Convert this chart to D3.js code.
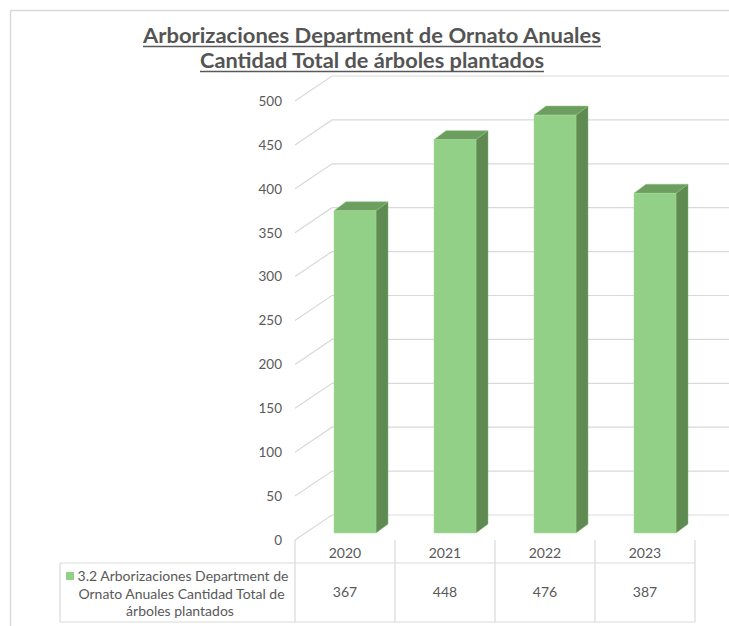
<!DOCTYPE html>
<html>
<head>
<meta charset="utf-8">
<script src="https://cdn.jsdelivr.net/npm/d3@7"></script>
<style>
  html, body { margin: 0; padding: 0; background: #fff; }
  svg { display: block; }
  text { font-family: Lato, "Open Sans", sans-serif; }
</style>
</head>
<body>
<svg id="chart" width="729" height="626"></svg>
<script>
const categories = ["2020", "2021", "2022", "2023"];
const values = [367, 448, 476, 387];
const yTicks = [0, 50, 100, 150, 200, 250, 300, 350, 400, 450, 500];
const titleLines = ["Arborizaciones Department de Ornato Anuales", "Cantidad Total de árboles plantados"];
const seriesName = ["3.2 Arborizaciones Department de", "Ornato Anuales Cantidad Total de", "árboles plantados"];

const svg = d3.select("#chart");
const W = 729, H = 626;
const textColor = "#595959", gridColor = "#d9d9d9";
const frontCol = "#93d087", sideCol = "#5f8b53", topCol = "#6b9e5f";

// outer chart border
svg.append("rect").attr("x", 10.5).attr("y", 10.5).attr("width", W + 20).attr("height", H + 20)
  .attr("fill", "none").attr("stroke", gridColor).attr("stroke-width", 1.5);

// title
const titleBase = [43, 68];
const titleWidths = [458, 344];
titleLines.forEach((t, i) => {
  svg.append("text").attr("x", 372).attr("y", titleBase[i]).attr("text-anchor", "middle")
    .attr("font-size", 20).attr("font-weight", "bold").attr("fill", "#545454")
    .attr("textLength", titleWidths[i]).attr("lengthAdjust", "spacingAndGlyphs").text(t);
  svg.append("line").attr("x1", 372 - titleWidths[i] / 2).attr("x2", 372 + titleWidths[i] / 2)
    .attr("y1", titleBase[i] + 3.5).attr("y2", titleBase[i] + 3.5)
    .attr("stroke", textColor).attr("stroke-width", 1.6);
});

// scales
const x = d3.scaleBand().domain(categories).range([295, 695]);
const y = d3.scaleLinear().domain([0, 500]).range([540, 101]);
const depth = [37, -25];       // wall depth vector
const barOff = [10, -7];       // bar front plane offset
const barDepth = [12, -9];     // bar depth
const barW = 42;

// gridlines (left wall diagonal + back wall horizontal)
const grid = svg.append("g");
yTicks.forEach(v => {
  const yy = y(v);
  grid.append("path")
    .attr("d", `M${x.range()[0]},${yy} L${x.range()[0] + depth[0]},${yy + depth[1]} L${W + 5},${yy + depth[1]}`)
    .attr("fill", "none").attr("stroke", gridColor).attr("stroke-width", 1.2);
});

// y axis labels
const yAxis = d3.axisLeft(y).tickValues(yTicks).tickSize(0).tickPadding(0);
const ga = svg.append("g").attr("transform", "translate(282,0)").call(yAxis);
ga.select(".domain").remove();
ga.selectAll("text").attr("font-size", 13.5).attr("fill", textColor)
  .attr("font-family", "Lato, 'Open Sans', sans-serif");

// bars
const bars = svg.append("g");
categories.forEach((c, i) => {
  const v = values[i];
  const cx = x(c) + x.bandwidth() / 2;
  const x0 = cx - barW / 2 + barOff[0];
  const x1 = x0 + barW;
  const yb = y(0) + barOff[1];
  const yt = y(v) + barOff[1];
  const dx = barDepth[0], dy = barDepth[1];
  bars.append("path")
    .attr("d", `M${x1},${yb} L${x1 + dx},${yb + dy} L${x1 + dx},${yt + dy} L${x1},${yt} Z`)
    .attr("fill", sideCol).attr("stroke", "#7fb472").attr("stroke-width", 0.5);
  bars.append("path")
    .attr("d", `M${x0},${yt} L${x1},${yt} L${x1 + dx},${yt + dy} L${x0 + dx},${yt + dy} Z`)
    .attr("fill", topCol).attr("stroke", "#8cc47f").attr("stroke-width", 0.5);
  bars.append("rect").attr("x", x0).attr("y", yt).attr("width", barW).attr("height", yb - yt)
    .attr("fill", frontCol).attr("stroke", "#a6d99b").attr("stroke-width", 0.5);
});

// data table
const tbl = svg.append("g").attr("stroke", gridColor).attr("stroke-width", 1.2).attr("fill", "none");
const tTop = 540, tMid = 563, tBot = 622, legL = 60;
const xr = x.range();
categories.forEach(c => {
  tbl.append("line").attr("x1", x(c)).attr("x2", x(c)).attr("y1", tTop).attr("y2", tBot);
});
tbl.append("line").attr("x1", xr[1]).attr("x2", xr[1]).attr("y1", tTop).attr("y2", tBot);
tbl.append("line").attr("x1", legL).attr("x2", xr[1]).attr("y1", tMid).attr("y2", tMid);
tbl.append("line").attr("x1", legL).attr("x2", xr[1]).attr("y1", tBot).attr("y2", tBot);
tbl.append("line").attr("x1", legL).attr("x2", legL).attr("y1", tMid).attr("y2", tBot);

categories.forEach((c, i) => {
  const cx = x(c) + x.bandwidth() / 2;
  svg.append("text").attr("x", cx).attr("y", 558).attr("text-anchor", "middle")
    .attr("font-size", 14).attr("fill", textColor).text(c);
  svg.append("text").attr("x", cx).attr("y", 597).attr("text-anchor", "middle")
    .attr("font-size", 14).attr("fill", textColor).text(values[i]);
});

// legend cell
const legCx = [183, 181.5, 180];
const legY = [581, 599, 616];
seriesName.forEach((t, i) => {
  svg.append("text").attr("x", legCx[i]).attr("y", legY[i]).attr("text-anchor", "middle")
    .attr("font-size", 14).attr("fill", textColor).text(t);
});
svg.append("rect").attr("x", 66).attr("y", 572).attr("width", 8).attr("height", 8).attr("fill", frontCol);
</script>
</body>
</html>
